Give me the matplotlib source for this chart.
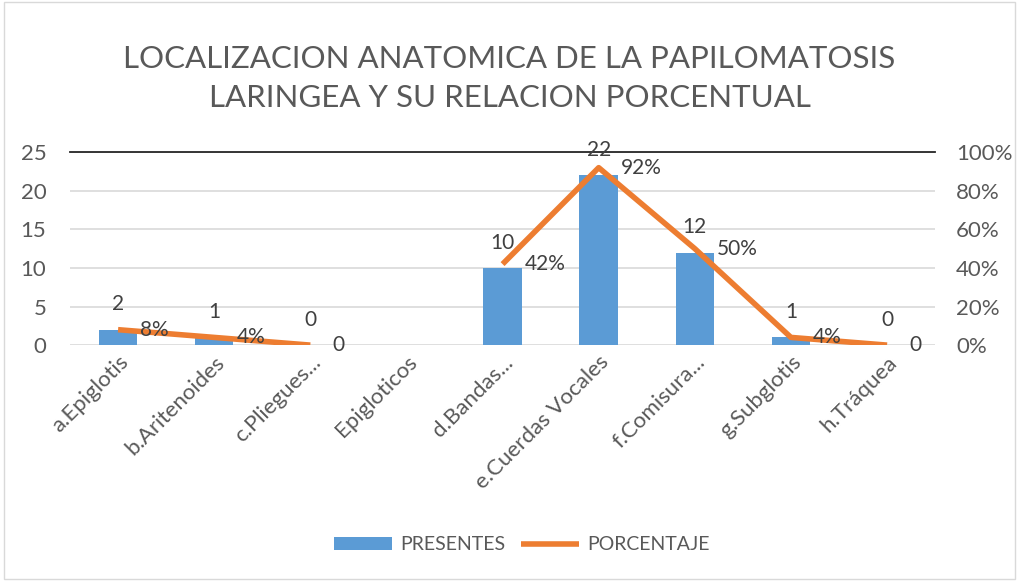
import matplotlib.pyplot as plt
import numpy as np
from matplotlib.patches import Rectangle

categorias = ['a.Epiglotis', 'b.Aritenoides', 'c.Pliegues...', 'Epigloticos',
              'd.Bandas...', 'e.Cuerdas Vocales', 'f.Comisura...', 'g.Subglotis', 'h.Tráquea']
presentes = [2, 1, 0, np.nan, 10, 22, 12, 1, 0]
porcentaje = [0.08, 0.04, 0.0, np.nan, 0.42, 0.92, 0.50, 0.04, 0.0]
etiq_pct = ['8%', '4%', '0', None, '42%', '92%', '50%', '4%', '0']

azul = '#5B9BD5'
naranja = '#ED7D31'
gris = '#595959'

plt.rcParams['font.family'] = ['Lato', 'DejaVu Sans']

fig = plt.figure(figsize=(10.19, 5.81), dpi=100)
fig.patches.append(Rectangle((0.004, 0.004), 0.992, 0.992, transform=fig.transFigure,
                             fill=False, edgecolor='#d9d9d9', linewidth=1))
ax = fig.add_axes([0.0687, 0.406, 0.849, 0.332])
x = np.arange(len(categorias))

ax.bar(x, presentes, width=0.4, color=azul, label='PRESENTES', zorder=2)
ax.set_ylim(0, 25)
ax.set_xlim(-0.5, len(categorias) - 0.5)
ax.set_yticks([0, 5, 10, 15, 20, 25])
ax.yaxis.grid(True, color='#d9d9d9', linewidth=1.2, zorder=0)
ax.set_axisbelow(True)
for s in ['left', 'right', 'bottom']:
    ax.spines[s].set_visible(False)
ax.spines['top'].set_color('#262626')
ax.spines['top'].set_linewidth(1.3)
ax.tick_params(axis='both', length=0, labelsize=16, labelcolor=gris)
ax.tick_params(axis='y', pad=17)
ax.tick_params(axis='x', pad=5)
ax.set_xticks(x)
ax.set_xticklabels(categorias, rotation=45, ha='right', rotation_mode='anchor')

for xi, v in zip(x, presentes):
    if not np.isnan(v):
        ax.annotate(f'{int(v)}', (xi, v), xytext=(0, 11), textcoords='offset points',
                    ha='center', va='bottom', fontsize=15, color='#404040')

ax2 = ax.twinx()
ax2.plot(x, porcentaje, color=naranja, linewidth=4, label='PORCENTAJE', zorder=3,
         solid_capstyle='butt')
ax2.set_ylim(0, 1)
ax2.set_yticks([0, 0.2, 0.4, 0.6, 0.8, 1.0])
ax2.set_yticklabels(['0%', '20%', '40%', '60%', '80%', '100%'])
ax2.tick_params(axis='y', length=0, labelsize=16, labelcolor=gris, pad=15)
for s in ['left', 'right', 'bottom', 'top']:
    ax2.spines[s].set_visible(False)

for xi, v, t in zip(x, porcentaje, etiq_pct):
    if t is not None:
        ax2.annotate(t, (xi, v), xytext=(16, 0), textcoords='offset points',
                     ha='left', va='center', fontsize=15, color='#404040')

fig.text(0.5, 0.865, 'LOCALIZACION ANATOMICA DE LA PAPILOMATOSIS\nLARINGEA Y SU RELACION PORCENTUAL',
         ha='center', va='center', fontsize=22.5, color=gris, linespacing=1.45)

h1, l1 = ax.get_legend_handles_labels()
h2, l2 = ax2.get_legend_handles_labels()
fig.legend(h1 + h2, l1 + l2, loc='center', bbox_to_anchor=(0.512, 0.062), ncol=2,
           frameon=False, fontsize=14, labelcolor=gris, handlelength=3.0, columnspacing=0.8,
           handletextpad=0.4)

fig.savefig('out.png', dpi=100)
